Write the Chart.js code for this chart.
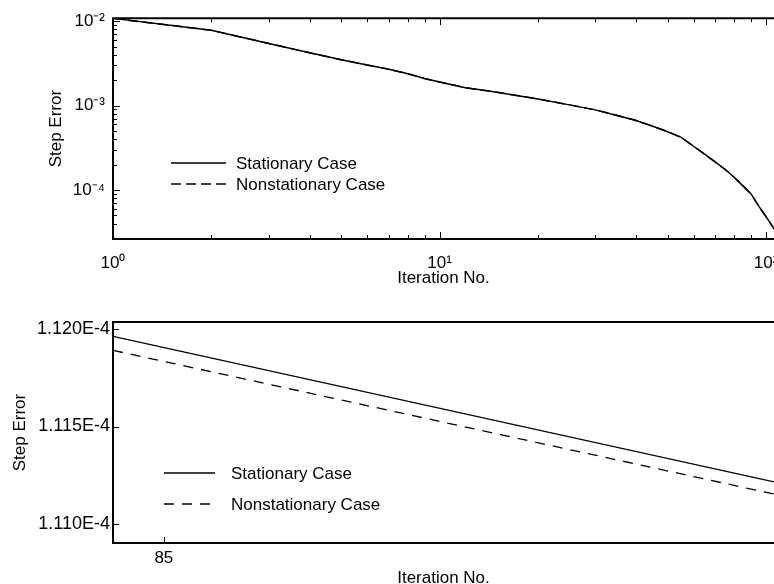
<!DOCTYPE html>
<html>
<head>
<meta charset="utf-8">
<title>Step Error vs Iteration No.</title>
<script src="https://cdn.jsdelivr.net/npm/chart.js@4.4.1/dist/chart.umd.min.js"></script>
<style>
  html, body { margin: 0; padding: 0; background: #fff; overflow: hidden; }
  canvas { display: block; }
</style>
</head>
<body>
<canvas id="topChart" width="774" height="290"></canvas>
<canvas id="bottomChart" width="774" height="300"></canvas>
<script>
// top panel: the whole run, log-log
const topIterations = [1, 2, 3, 4, 5, 6, 7, 8, 9, 10, 11, 12, 13, 15, 20, 25, 30, 35, 40, 45, 50, 55, 60, 65, 70, 75, 80, 85, 90, 95, 100, 106];
const topStationary = [1.08e-2, 7.8e-3, 5.45e-3, 4.22e-3, 3.5e-3, 3.03e-3, 2.7e-3, 2.38e-3, 2.1e-3, 1.9e-3, 1.75e-3, 1.63e-3, 1.56e-3, 1.44e-3, 1.2e-3, 1.02e-3, 8.9e-4, 7.65e-4, 6.65e-4, 5.7e-4, 4.9e-4, 4.2e-4, 3.3e-4, 2.65e-4, 2.14e-4, 1.75e-4, 1.41e-4, 1.12e-4, 9.0e-5, 6.45e-5, 4.85e-5, 3.45e-5];
const topNonstationary = [1.08e-2, 7.8e-3, 5.45e-3, 4.22e-3, 3.5e-3, 3.03e-3, 2.7e-3, 2.38e-3, 2.1e-3, 1.9e-3, 1.75e-3, 1.63e-3, 1.56e-3, 1.44e-3, 1.2e-3, 1.02e-3, 8.9e-4, 7.65e-4, 6.65e-4, 5.7e-4, 4.9e-4, 4.2e-4, 3.3e-4, 2.65e-4, 2.14e-4, 1.75e-4, 1.41e-4, 1.12e-4, 9.0e-5, 6.45e-5, 4.85e-5, 3.45e-5];
const topXTickValues = [1, 10, 100];
const topXTickLabels = ['10⁰', '10¹', '10²'];
const topYTickValues = [1e-4, 1e-3, 1e-2];
const topYTickLabels = ['10⁻⁴', '10⁻³', '10⁻²'];

// bottom panel: zoom around iteration 85
const bottomIterations = [84.99, 85.12];
const bottomStationary = [1.11961e-4, 1.11217e-4];
const bottomNonstationary = [1.11889e-4, 1.11155e-4];
const bottomXTickValues = [85];
const bottomXTickLabels = ['85'];
const bottomYTickValues = [1.110e-4, 1.115e-4, 1.120e-4];
const bottomYTickLabels = ['1.110E-4', '1.115E-4', '1.120E-4'];

const seriesNames = ['Stationary Case', 'Nonstationary Case'];

const FONT = { family: '"Liberation Sans", Arial, sans-serif', size: 17 };
const FONT_BIG = { family: FONT.family, size: 18 };
Chart.defaults.color = '#000';
Chart.defaults.font.family = FONT.family;

function labelFor(v, values, labels) {
  const i = values.findIndex(t => Math.abs(t - v) <= Math.abs(t) * 1e-6);
  return i >= 0 ? labels[i] : '';
}

function toPoints(xs, ys) {
  return xs.map((x, i) => ({ x: x, y: ys[i] }));
}

// tick size: logs get long marks on decades, short on the rest
function tickLen(scale, v) {
  if (scale.type !== 'logarithmic') return 6;
  const exp = Math.floor(Math.log10(v) + 1e-9);
  const sig = v / Math.pow(10, exp);
  if (Math.abs(sig - Math.round(sig)) > 1e-4) return 0;
  return Math.round(sig) === 1 ? 7 : 4;
}

const framePlugin = {
  id: 'frame',
  afterDraw(chart, args, opts) {
    const { ctx, chartArea: a, scales } = chart;
    ctx.save();
    ctx.strokeStyle = '#000';
    ctx.lineWidth = 2;
    ctx.beginPath();
    ctx.moveTo(a.right + 2, a.top);
    ctx.lineTo(a.left, a.top);
    ctx.lineTo(a.left, a.bottom);
    ctx.lineTo(a.right + 2, a.bottom);
    ctx.stroke();

    ctx.lineWidth = 1;
    ctx.beginPath();
    scales.x.ticks.forEach(t => {
      const len = tickLen(scales.x, t.value);
      if (!len) return;
      const px = Math.round(scales.x.getPixelForValue(t.value)) + 0.5;
      ctx.moveTo(px, a.bottom);
      ctx.lineTo(px, a.bottom - len);
      if (opts.topTicks) {
        ctx.moveTo(px, a.top);
        ctx.lineTo(px, a.top + len);
      }
    });
    scales.y.ticks.forEach(t => {
      const len = tickLen(scales.y, t.value);
      if (!len) return;
      const py = Math.round(scales.y.getPixelForValue(t.value)) + 0.5;
      ctx.moveTo(a.left, py);
      ctx.lineTo(a.left + len, py);
    });
    ctx.stroke();
    ctx.restore();
  }
};

const insetLegend = {
  id: 'insetLegend',
  afterDraw(chart, args, opts) {
    const ctx = chart.ctx;
    ctx.save();
    ctx.font = FONT.size + 'px ' + FONT.family;
    ctx.textBaseline = 'middle';
    ctx.fillStyle = '#000';
    chart.data.datasets.forEach((ds, i) => {
      const y = opts.rows[i];
      ctx.strokeStyle = '#000';
      ctx.lineWidth = 1.3;
      ctx.setLineDash(ds.borderDash || []);
      ctx.beginPath();
      ctx.moveTo(opts.x0, y);
      ctx.lineTo(opts.x1, y);
      ctx.stroke();
      ctx.setLineDash([]);
      ctx.fillText(ds.label, opts.textX, y + 1);
    });
    ctx.restore();
  }
};

function lineDataset(label, xs, ys, width, dash) {
  return {
    label: label,
    data: toPoints(xs, ys),
    borderColor: '#000',
    borderWidth: width,
    borderDash: dash,
    pointRadius: 0,
    fill: false,
    tension: 0
  };
}

// plot runs off the right edge of the page, as in the source figure
function fitX(height) {
  return s => {
    s.height = height;
    s.paddingLeft = 0;
    s.paddingRight = 0;
  };
}

new Chart(document.getElementById('topChart'), {
  type: 'line',
  data: {
    datasets: [
      lineDataset(seriesNames[0], topIterations, topStationary, 1.5, []),
      lineDataset(seriesNames[1], topIterations, topNonstationary, 1.5, [10, 5])
    ]
  },
  options: {
    responsive: false,
    animation: false,
    layout: { padding: { top: 18, left: 0, right: 0, bottom: 0 } },
    plugins: {
      legend: { display: false },
      tooltip: { enabled: false },
      frame: { topTicks: true },
      insetLegend: { x0: 171, x1: 226, textX: 236, rows: [163, 184] }
    },
    scales: {
      x: {
        type: 'logarithmic',
        min: 1,
        max: 105.8,
        grid: { display: false, drawTicks: false },
        border: { display: false },
        afterFit: fitX(51),
        ticks: {
          padding: 14, autoSkip: false, maxRotation: 0, minRotation: 0,
          font: FONT, color: '#000',
          callback: v => labelFor(v, topXTickValues, topXTickLabels)
        },
        title: { display: true, text: 'Iteration No.', font: FONT, color: '#000', padding: { top: 0, bottom: 1 } }
      },
      y: {
        type: 'logarithmic',
        min: 2.63e-5,
        max: 1.085e-2,
        grid: { display: false, drawTicks: false },
        border: { display: false },
        afterFit: s => { s.width = 113; },
        ticks: {
          padding: 8, autoSkip: false,
          font: FONT, color: '#000',
          callback: v => labelFor(v, topYTickValues, topYTickLabels)
        },
        title: { display: true, text: 'Step Error', font: FONT, color: '#000', padding: { top: 46, bottom: 0 } }
      }
    }
  },
  plugins: [framePlugin, insetLegend]
});

new Chart(document.getElementById('bottomChart'), {
  type: 'line',
  data: {
    datasets: [
      lineDataset(seriesNames[0], bottomIterations, bottomStationary, 1.3, []),
      lineDataset(seriesNames[1], bottomIterations, bottomNonstationary, 1.3, [10, 8])
    ]
  },
  options: {
    responsive: false,
    animation: false,
    layout: { padding: { top: 32, left: 0, right: 0, bottom: 0 } },
    plugins: {
      legend: { display: false },
      tooltip: { enabled: false },
      frame: { topTicks: false },
      insetLegend: { x0: 164, x1: 215, textX: 231, rows: [183, 214] }
    },
    scales: {
      x: {
        type: 'linear',
        min: 84.99,
        max: 85.12,
        grid: { display: false, drawTicks: false },
        border: { display: false },
        afterBuildTicks: s => { s.ticks = bottomXTickValues.map(v => ({ value: v })); },
        afterFit: fitX(47),
        ticks: {
          padding: 5, autoSkip: false, maxRotation: 0, minRotation: 0,
          font: FONT, color: '#000',
          callback: v => labelFor(v, bottomXTickValues, bottomXTickLabels)
        },
        title: { display: true, text: 'Iteration No.', font: FONT, color: '#000', padding: { top: 0, bottom: 1 } }
      },
      y: {
        type: 'linear',
        min: 1.10905e-4,
        max: 1.12034e-4,
        grid: { display: false, drawTicks: false },
        border: { display: false },
        afterBuildTicks: s => { s.ticks = bottomYTickValues.map(v => ({ value: v })); },
        afterFit: s => { s.width = 113; },
        ticks: {
          padding: 3, autoSkip: false,
          font: FONT_BIG, color: '#000',
          callback: v => labelFor(v, bottomYTickValues, bottomYTickLabels)
        },
        title: { display: true, text: 'Step Error', font: FONT, color: '#000', padding: { top: 10, bottom: 0 } }
      }
    }
  },
  plugins: [framePlugin, insetLegend]
});
</script>
</body>
</html>
